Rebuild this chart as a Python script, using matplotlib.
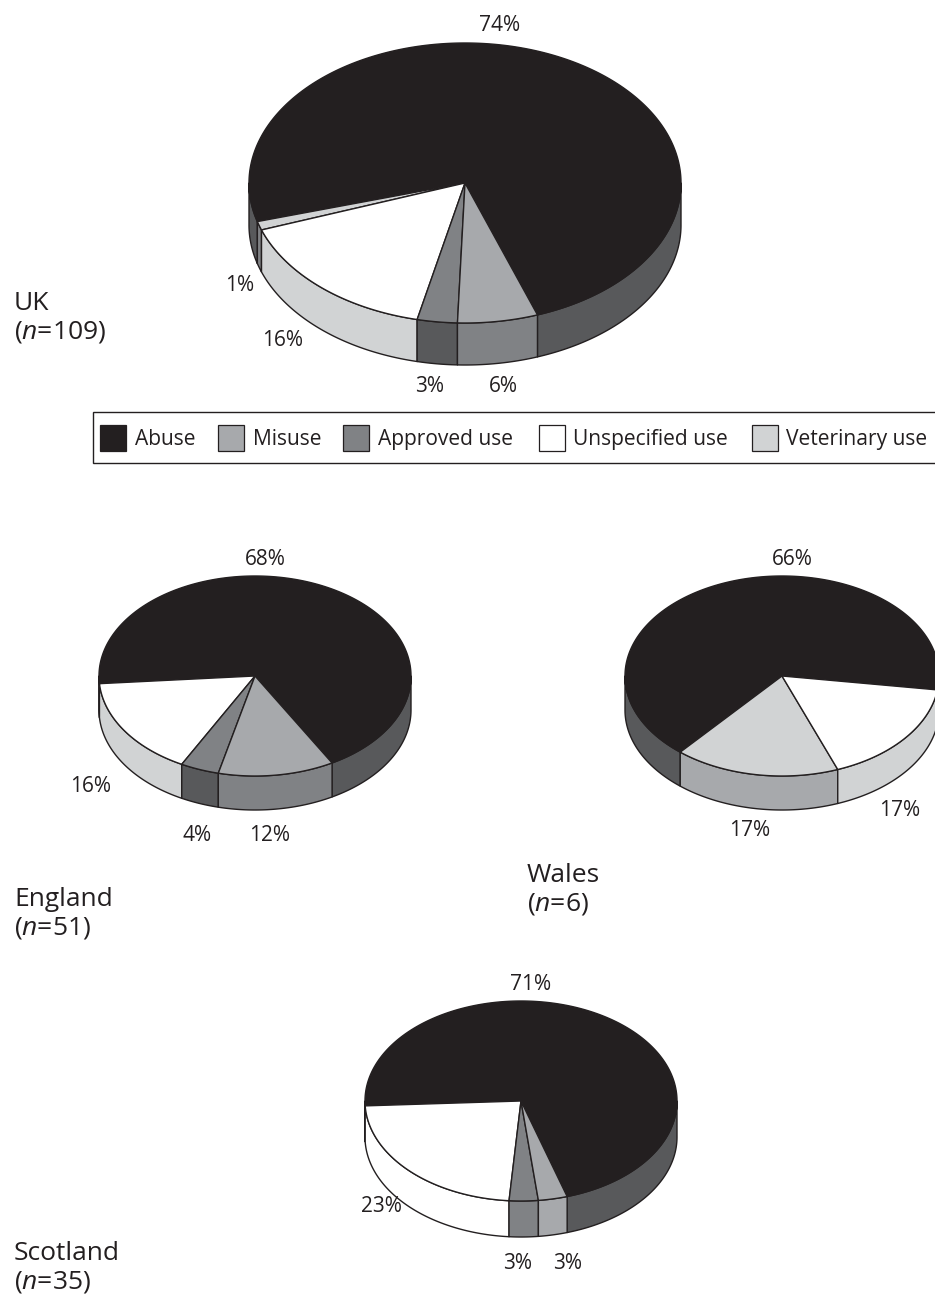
import numpy as np
import matplotlib
matplotlib.use('Agg')
import matplotlib.pyplot as plt
from matplotlib.patches import Polygon, Rectangle

plt.rcParams['font.family'] = ['Open Sans', 'DejaVu Sans']
plt.rcParams['mathtext.fontset'] = 'custom'
plt.rcParams['mathtext.rm'] = 'Open Sans'
plt.rcParams['mathtext.it'] = 'Open Sans:italic'

# colours
ABUSE = '#231f20'
DARK = '#58595b'
MID = '#808285'
LIGHT = '#a7a9ac'
PALE = '#d1d3d4'
WHITE = '#ffffff'

legend_names = ['Abuse', 'Misuse', 'Approved use', 'Unspecified use', 'Veterinary use']
legend_colors = [ABUSE, LIGHT, MID, WHITE, PALE]

# slices run counter clockwise from the start angle
uk_values = [74, 1, 16, 3, 6]
uk_tops = [ABUSE, PALE, WHITE, MID, LIGHT]
uk_sides = [DARK, MID, PALE, DARK, MID]

england_values = [68, 16, 4, 12]
england_tops = [ABUSE, WHITE, MID, LIGHT]
england_sides = [DARK, PALE, DARK, MID]

wales_values = [66, 17, 17]
wales_tops = [ABUSE, PALE, WHITE]
wales_sides = [DARK, LIGHT, PALE]

scotland_values = [71, 23, 3, 3]
scotland_tops = [ABUSE, WHITE, MID, LIGHT]
scotland_sides = [DARK, WHITE, MID, LIGHT]


def ellipse_points(cx, cy, rx, ry, t1, t2):
    t = np.radians(np.linspace(t1, t2, max(int(abs(t2 - t1)) * 2, 2)))
    return np.column_stack([cx + rx * np.cos(t), cy - ry * np.sin(t)])


def draw_pie(ax, cx, cy, rx, ry, depth, start, values, tops, sides):
    edges = start + np.cumsum([0] + values) * 3.6

    # side walls first, only the front half can be seen
    for i in range(len(values)):
        for shift in (0, 360):
            t1 = max(edges[i] - shift, 180)
            t2 = min(edges[i + 1] - shift, 360)
            if t2 <= t1:
                continue
            upper = ellipse_points(cx, cy, rx, ry, t1, t2)
            lower = ellipse_points(cx, cy + depth, rx, ry, t2, t1)
            ax.add_patch(Polygon(np.vstack([upper, lower]), closed=True, fc=sides[i],
                                 ec='#231f20', lw=1.0, joinstyle='round'))

    for i in range(len(values)):
        arc = ellipse_points(cx, cy, rx, ry, edges[i], edges[i + 1])
        ax.add_patch(Polygon(np.vstack([[cx, cy], arc]), closed=True, fc=tops[i],
                             ec='#231f20', lw=1.0, joinstyle='round'))


fig = plt.figure(figsize=(9.35, 12.95), dpi=100)
ax = fig.add_axes([0, 0, 1, 1])
ax.set_xlim(0, 935)
ax.set_ylim(1295, 0)
ax.axis('off')

draw_pie(ax, 465, 183, 216, 140, 42, 289.6, uk_values, uk_tops, uk_sides)
draw_pie(ax, 255, 676, 156, 100, 34, 299.6, england_values, england_tops, england_sides)
draw_pie(ax, 782, 676, 157, 100, 34, 352, wales_values, wales_tops, wales_sides)
draw_pie(ax, 521, 1101, 156, 100, 36, 287.2, scotland_values, scotland_tops, scotland_sides)

# percentage labels, y is the baseline
def pct_labels(values, xs, ys):
    for v, x, y in zip(values, xs, ys):
        ax.text(x, y, f'{v}%', ha='center', va='baseline', fontsize=15, color='#231f20')

pct_labels(uk_values, [500, 240, 283, 430, 503], [31, 291, 346, 392, 392])
pct_labels(england_values, [265, 91, 197, 270], [565, 792, 841, 841])
pct_labels(wales_values, [792, 750, 900], [565, 836, 816])
pct_labels(scotland_values, [531, 381, 518, 568], [990, 1212, 1269, 1269])

# panel titles
titles = [('UK', '109', 14, 310), ('England', '51', 14, 906),
          ('Wales', '6', 527, 882), ('Scotland', '35', 14, 1260)]
for name, n, x, y in titles:
    ax.text(x, y, name, ha='left', va='baseline', fontsize=19, color='#231f20')
    ax.text(x, y + 28.5, '($\\mathit{n}$=' + n + ')', ha='left', va='baseline',
            fontsize=19, color='#231f20')

# legend box runs off the right side of the page
ax.add_patch(Rectangle((92.5, 411.5), 900, 51, fc='white', ec='#231f20', lw=1.0))
swatch_x = [100, 218, 343, 539, 752]
label_x = [135, 253, 378, 573, 786]
for name, color, sx, lx in zip(legend_names, legend_colors, swatch_x, label_x):
    ax.add_patch(Rectangle((sx, 425), 26, 26, fc=color, ec='#231f20', lw=0.9))
    ax.text(lx, 445, name, ha='left', va='baseline', fontsize=15.1, color='#231f20')

fig.savefig('out.png', dpi=100)
